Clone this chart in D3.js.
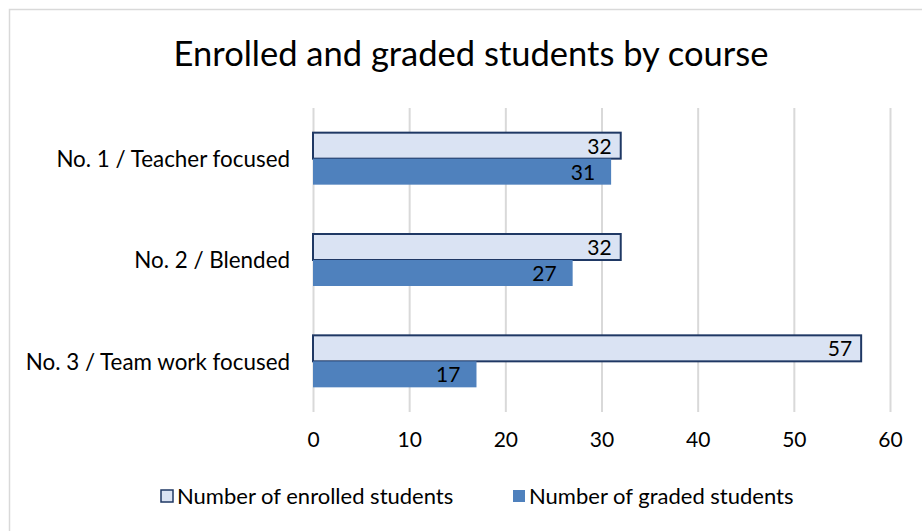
<!DOCTYPE html>
<html>
<head>
<meta charset="utf-8">
<script src="https://cdn.jsdelivr.net/npm/d3@7"></script>
<style>
  body { margin: 0; background: #fff; }
  text { font-family: Lato, "Liberation Sans", sans-serif; fill: #000; }
</style>
</head>
<body>
<div id="chart"></div>
<script>
// chart values
var courses = ["No. 1 / Teacher focused", "No. 2 / Blended", "No. 3 / Team work focused"];
var enrolled = [32, 32, 57];
var graded = [31, 27, 17];
var seriesNames = ["Number of enrolled students", "Number of graded students"];
var xTicks = [0, 10, 20, 30, 40, 50, 60];

var width = 922, height = 531;
var svg = d3.select("#chart").append("svg")
  .attr("width", width)
  .attr("height", height);

// outer chart frame, runs off the right and bottom edges
svg.append("rect")
  .attr("x", 9.5).attr("y", 9.5)
  .attr("width", 930).attr("height", 540)
  .attr("fill", "#fff")
  .attr("stroke", "#d9d9d9")
  .attr("stroke-width", 1.5);

svg.append("text")
  .attr("x", 471).attr("y", 66)
  .attr("text-anchor", "middle")
  .style("font-size", "34.5px")
  .text("Enrolled and graded students by course");

var x = d3.scaleLinear().domain([0, 60]).range([313, 890]);
var y = d3.scaleBand().domain(courses).range([108, 412]);
var barH = 26;

// vertical gridlines
svg.append("g").selectAll("line")
  .data(xTicks).enter().append("line")
    .attr("x1", d => x(d) + 0.5).attr("x2", d => x(d) + 0.5)
    .attr("y1", 108).attr("y2", 412)
    .attr("stroke", "#d9d9d9")
    .attr("stroke-width", 2);

// x axis labels
var xAxis = d3.axisBottom(x).tickValues(xTicks).tickSize(0).tickPadding(0);
var gx = svg.append("g").attr("transform", "translate(0,432)").call(xAxis);
gx.select(".domain").remove();
gx.selectAll("text")
  .style("font-size", "21px")
  .style("font-family", "Lato, 'Liberation Sans', sans-serif");

// category labels
var yAxis = d3.axisLeft(y).tickSize(0).tickPadding(0);
var gy = svg.append("g").attr("transform", "translate(290,1)").call(yAxis);
gy.select(".domain").remove();
gy.selectAll("text")
  .style("font-size", "22.4px")
  .style("font-family", "Lato, 'Liberation Sans', sans-serif");

function mid(c) { return y(c) + y.bandwidth() / 2; }

// enrolled bars (upper)
svg.append("g").selectAll("rect")
  .data(courses).enter().append("rect")
    .attr("x", x(0))
    .attr("y", d => mid(d) - barH)
    .attr("width", (d, i) => x(enrolled[i]) - x(0))
    .attr("height", barH)
    .attr("fill", "#dae3f3")
    .attr("stroke", "#1f3864")
    .attr("stroke-width", 2);

// graded bars (lower)
svg.append("g").selectAll("rect")
  .data(courses).enter().append("rect")
    .attr("x", x(0))
    .attr("y", d => mid(d))
    .attr("width", (d, i) => x(graded[i]) - x(0))
    .attr("height", barH)
    .attr("fill", "#4f81bd");

// data labels, inside end
svg.append("g").selectAll("text")
  .data(courses).enter().append("text")
    .attr("x", (d, i) => x(enrolled[i]) - 9)
    .attr("y", d => mid(d) - barH / 2 + 8)
    .attr("text-anchor", "end")
    .style("font-size", "21px")
    .text((d, i) => enrolled[i]);

svg.append("g").selectAll("text")
  .data(courses).enter().append("text")
    .attr("x", (d, i) => x(graded[i]) - 16)
    .attr("y", d => mid(d) + barH / 2 + 8)
    .attr("text-anchor", "end")
    .style("font-size", "21px")
    .text((d, i) => graded[i]);

// legend
var legendX = [161, 513];
var legend = svg.append("g").selectAll("g")
  .data(seriesNames).enter().append("g")
    .attr("transform", (d, i) => "translate(" + legendX[i] + ",490)");
legend.append("rect")
  .attr("width", 12).attr("height", 12)
  .attr("fill", (d, i) => i === 0 ? "#dae3f3" : "#4f81bd")
  .attr("stroke", (d, i) => i === 0 ? "#1f3864" : "none")
  .attr("stroke-width", 1.5);
legend.append("text")
  .attr("x", 16).attr("y", 14)
  .style("font-size", "22px")
  .text(d => d);
</script>
</body>
</html>
